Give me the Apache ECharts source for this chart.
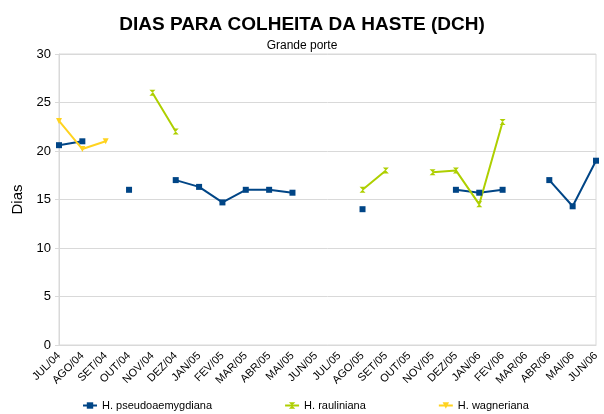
<!DOCTYPE html>
<html>
<head>
<meta charset="utf-8">
<script src="https://cdn.jsdelivr.net/npm/echarts@6/dist/echarts.min.js"></script>
<style>
  html, body { margin: 0; padding: 0; background: #fff; }
  #chart { width: 604px; height: 414px; }
</style>
</head>
<body>
<div id="chart"></div>
<script>
var months = ['JUL/04', 'AGO/04', 'SET/04', 'OUT/04', 'NOV/04', 'DEZ/04', 'JAN/05', 'FEV/05',
  'MAR/05', 'ABR/05', 'MAI/05', 'JUN/05', 'JUL/05', 'AGO/05', 'SET/05', 'OUT/05', 'NOV/05',
  'DEZ/05', 'JAN/06', 'FEV/06', 'MAR/06', 'ABR/06', 'MAI/06', 'JUN/06'];

var pseudoaemygdiana = [20.6, 21.0, null, 16.0, null, 17.0, 16.3, 14.7, 16.0, 16.0, 15.7, null,
  null, 14.0, null, null, null, 16.0, 15.7, 16.0, null, 17.0, 14.3, 19.0];
var rauliniana = [null, null, null, null, 26.0, 22.0, null, null, null, null, null, null,
  null, 16.0, 18.0, null, 17.8, 18.0, 14.5, 23.0, null, null, null, null];
var wagneriana = [23.1, 20.2, 21.0, null, null, null, null, null, null, null, null, null,
  null, null, null, null, null, null, null, null, null, null, null, null];

var hourglass = 'path://M0,0 L10,0 L5,5 L10,10 L0,10 L5,5 Z';
var arrowDown = 'path://M0,0 L10,0 L5,8 Z';

var myChart = echarts.init(document.getElementById('chart'));
var option = {
  textStyle: { fontFamily: 'Liberation Sans, Arial, sans-serif' },
  animation: false,
  title: [
    {
      text: 'DIAS PARA COLHEITA DA HASTE (DCH)',
      subtext: 'Grande porte',
      left: 'center',
      top: 10,
      itemGap: 6,
      textStyle: { fontSize: 19, fontWeight: 'bold', color: '#000' },
      subtextStyle: { fontSize: 12, color: '#000' }
    }
  ],
  legend: {
    top: 395,
    left: 77,
    itemGap: 72,
    itemWidth: 14,
    itemHeight: 8,
    textStyle: { fontSize: 11, color: '#000' },
    data: ['H. pseudoaemygdiana', 'H. rauliniana', 'H. wagneriana']
  },
  grid: {
    left: 59,
    right: 8,
    top: 54,
    bottom: 69,
    show: true,
    borderColor: '#d9d9d9',
    borderWidth: 1
  },
  xAxis: {
    type: 'category',
    data: months,
    boundaryGap: false,
    axisLine: { lineStyle: { color: '#d9d9d9' } },
    axisTick: { show: false },
    axisLabel: { interval: 0, rotate: 45, fontSize: 11, color: '#000', margin: 9 }
  },
  yAxis: {
    type: 'value',
    min: 0,
    max: 30,
    interval: 5,
    name: 'Dias',
    nameLocation: 'middle',
    nameGap: 34,
    nameTextStyle: { fontSize: 15, color: '#000' },
    axisLine: { show: true, lineStyle: { color: '#d9d9d9' } },
    axisTick: { show: true, length: 4, lineStyle: { color: '#d9d9d9' } },
    axisLabel: { fontSize: 13, color: '#000' },
    splitLine: { lineStyle: { color: '#d9d9d9' } }
  },
  series: [
    {
      name: 'H. pseudoaemygdiana',
      type: 'line',
      data: pseudoaemygdiana,
      color: '#004586',
      symbol: 'rect',
      symbolSize: 6,
      lineStyle: { width: 2 }
    },
    {
      name: 'H. rauliniana',
      type: 'line',
      data: rauliniana,
      color: '#aecf00',
      symbol: hourglass,
      symbolSize: 6,
      lineStyle: { width: 2 }
    },
    {
      name: 'H. wagneriana',
      type: 'line',
      data: wagneriana,
      color: '#ffd320',
      symbol: arrowDown,
      symbolSize: 6,
      lineStyle: { width: 2 }
    }
  ]
};
myChart.setOption(option);
</script>
</body>
</html>
